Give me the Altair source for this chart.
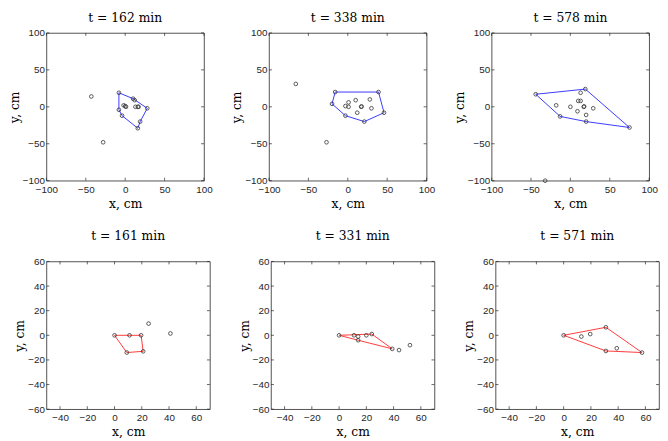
import altair as alt
import pandas as pd

# ---------------- data (cm) ----------------
TITLES_TOP = ["t = 162 min", "t = 338 min", "t = 578 min"]
TITLES_BOT = ["t = 161 min", "t = 331 min", "t = 571 min"]

# top row, panel 1 (t = 162 min)
P1_X = [-43, -28, -8, 10, 12, 28, 19, 16, -4, -8, -2, 0, 1, 13, 16, 17]
P1_Y = [14, -48, 19, 11, 9, -2, -20, -29, -12, -4, 2, 1, 0, 0, 0, 0]
H1_X = [-8, 10, 28, 19, 16, -4, -8, -8]
H1_Y = [19, 11, -2, -20, -29, -12, -4, 19]

# top row, panel 2 (t = 338 min)
P2_X = [-66, -27, -16, 39, 46, 21, -3, -20, 1, -3, 1, 10, 17, 17.5, 28, 30, 12]
P2_Y = [31, -48, 20, 20, -8, -20, -12, 4, 6, 1, 0, 9, 0, 0.5, 10, -2, -8]
H2_X = [-16, 39, 46, 21, -3, -20, -16]
H2_Y = [20, 20, -8, -20, -12, 4, 20]

# top row, panel 3 (t = 578 min)
P3_X = [-44, 19, 75, 20, -13, -32, -18, 0, 9, 10, 13, 13, 17, 17.5, 20, 29]
P3_Y = [17, 24, -28, -20, -13, -100, 2, 0, -6, 8, 8, 19, 0, 0.5, -11, -2]
H3_X = [-44, 19, 75, 20, -13, -44]
H3_Y = [17, 24, -28, -20, -13, 17]

# bottom row, panel 4 (t = 161 min)
P4_X = [0, 11, 19.5, 21, 9, 25, 41]
P4_Y = [0, 0, 0, -13, -14, 9.5, 1.5]
H4_X = [0, 11, 19.5, 21, 9, 0]
H4_Y = [0, 0, 0, -13, -14, 0]

# bottom row, panel 5 (t = 331 min)
P5_X = [0, 11, 14, 14, 20, 24, 39, 44, 52]
P5_Y = [0, 0, -1, -4, 0, 1, -11, -12, -8]
H5_X = [0, 24, 39, 14, 0]
H5_Y = [0, 1, -11, -4, 0]

# bottom row, panel 6 (t = 571 min)
P6_X = [0, 31, 57.5, 31, 13, 19.5, 39]
P6_Y = [0, 6.5, -14, -12.7, -1, 1, -10.5]
H6_X = [0, 31, 57.5, 31, 0]
H6_Y = [0, 6.5, -14, -12.7, 0]

# axes
TOP_DOM = [-100, 100]
TOP_TICKS = [-100, -50, 0, 50, 100]
BOT_XDOM = [-50, 70]
BOT_XTICKS = [-40, -20, 0, 20, 40, 60]
BOT_YDOM = [-60, 60]
BOT_YTICKS = [-60, -40, -20, 0, 20, 40, 60]

BLUE = "#3a3aff"
RED = "#ff3a3a"
INK = "#262626"
TICK_LEN = 3


def panel(px, py, hx, hy, title, xdom, xticks, ydom, yticks, color, w, h, toff):
    pts = pd.DataFrame({"x": px, "y": py})
    hull = pd.DataFrame({"x": hx, "y": hy, "o": list(range(len(hx)))})
    X = alt.X("x:Q", scale=alt.Scale(domain=xdom, nice=False, zero=False),
              axis=alt.Axis(values=xticks, title="x, cm", labelPadding=4,
                            titlePadding=3))
    Y = alt.Y("y:Q", scale=alt.Scale(domain=ydom, nice=False, zero=False),
              axis=alt.Axis(values=yticks, title="y, cm", labelPadding=2,
                            titlePadding=1))
    line = alt.Chart(hull).mark_line(color=color, strokeWidth=1).encode(
        x=X, y=Y, order="o:Q")
    points = alt.Chart(pts).mark_point(
        shape="circle", filled=False, size=14, color="#333333",
        strokeWidth=0.8, opacity=1).encode(x=X, y=Y)
    tx = pd.DataFrame({"x": xticks})
    ty = pd.DataFrame({"y": yticks})
    tick_b = alt.Chart(tx).mark_rule(color=INK, strokeWidth=0.7).encode(
        x=X, y=alt.value(h), y2=alt.value(h - TICK_LEN))
    tick_t = alt.Chart(tx).mark_rule(color=INK, strokeWidth=0.7).encode(
        x=X, y=alt.value(0), y2=alt.value(TICK_LEN))
    tick_l = alt.Chart(ty).mark_rule(color=INK, strokeWidth=0.7).encode(
        y=Y, x=alt.value(0), x2=alt.value(TICK_LEN))
    tick_r = alt.Chart(ty).mark_rule(color=INK, strokeWidth=0.7).encode(
        y=Y, x=alt.value(w), x2=alt.value(w - TICK_LEN))
    return alt.layer(tick_b, tick_t, tick_l, tick_r, line, points).properties(
        width=w, height=h, title=alt.Title(title, offset=toff))


WT, WB, H = 160, 166, 150

top = alt.hconcat(
    panel(P1_X, P1_Y, H1_X, H1_Y, TITLES_TOP[0], TOP_DOM, TOP_TICKS, TOP_DOM, TOP_TICKS, BLUE, WT, H, 4),
    panel(P2_X, P2_Y, H2_X, H2_Y, TITLES_TOP[1], TOP_DOM, TOP_TICKS, TOP_DOM, TOP_TICKS, BLUE, WT, H, 4),
    panel(P3_X, P3_Y, H3_X, H3_Y, TITLES_TOP[2], TOP_DOM, TOP_TICKS, TOP_DOM, TOP_TICKS, BLUE, WT, H, 4),
    spacing=66, bounds="flush")

bot = alt.hconcat(
    panel(P4_X, P4_Y, H4_X, H4_Y, TITLES_BOT[0], BOT_XDOM, BOT_XTICKS, BOT_YDOM, BOT_YTICKS, RED, WB, H, 14),
    panel(P5_X, P5_Y, H5_X, H5_Y, TITLES_BOT[1], BOT_XDOM, BOT_XTICKS, BOT_YDOM, BOT_YTICKS, RED, WB, H, 14),
    panel(P6_X, P6_Y, H6_X, H6_Y, TITLES_BOT[2], BOT_XDOM, BOT_XTICKS, BOT_YDOM, BOT_YTICKS, RED, WB, H, 14),
    spacing=62, bounds="flush")

chart = alt.vconcat(top, bot, spacing=20).properties(
    padding=0, background="white"
).configure_view(
    stroke=INK, strokeWidth=0.8
).configure_axis(
    domain=False, ticks=False, grid=False,
    labelFont="Liberation Sans", labelFontSize=10, labelColor=INK,
    labelFlush=False, labelOverlap=False,
    titleFont="DejaVu Serif", titleFontSize=12.5, titleFontWeight="normal",
    titleColor="black"
).configure_title(
    font="DejaVu Serif", fontSize=12.5, fontWeight="normal", color="black"
)

chart.save("out.html", embed_options={"renderer": "svg", "actions": False})
